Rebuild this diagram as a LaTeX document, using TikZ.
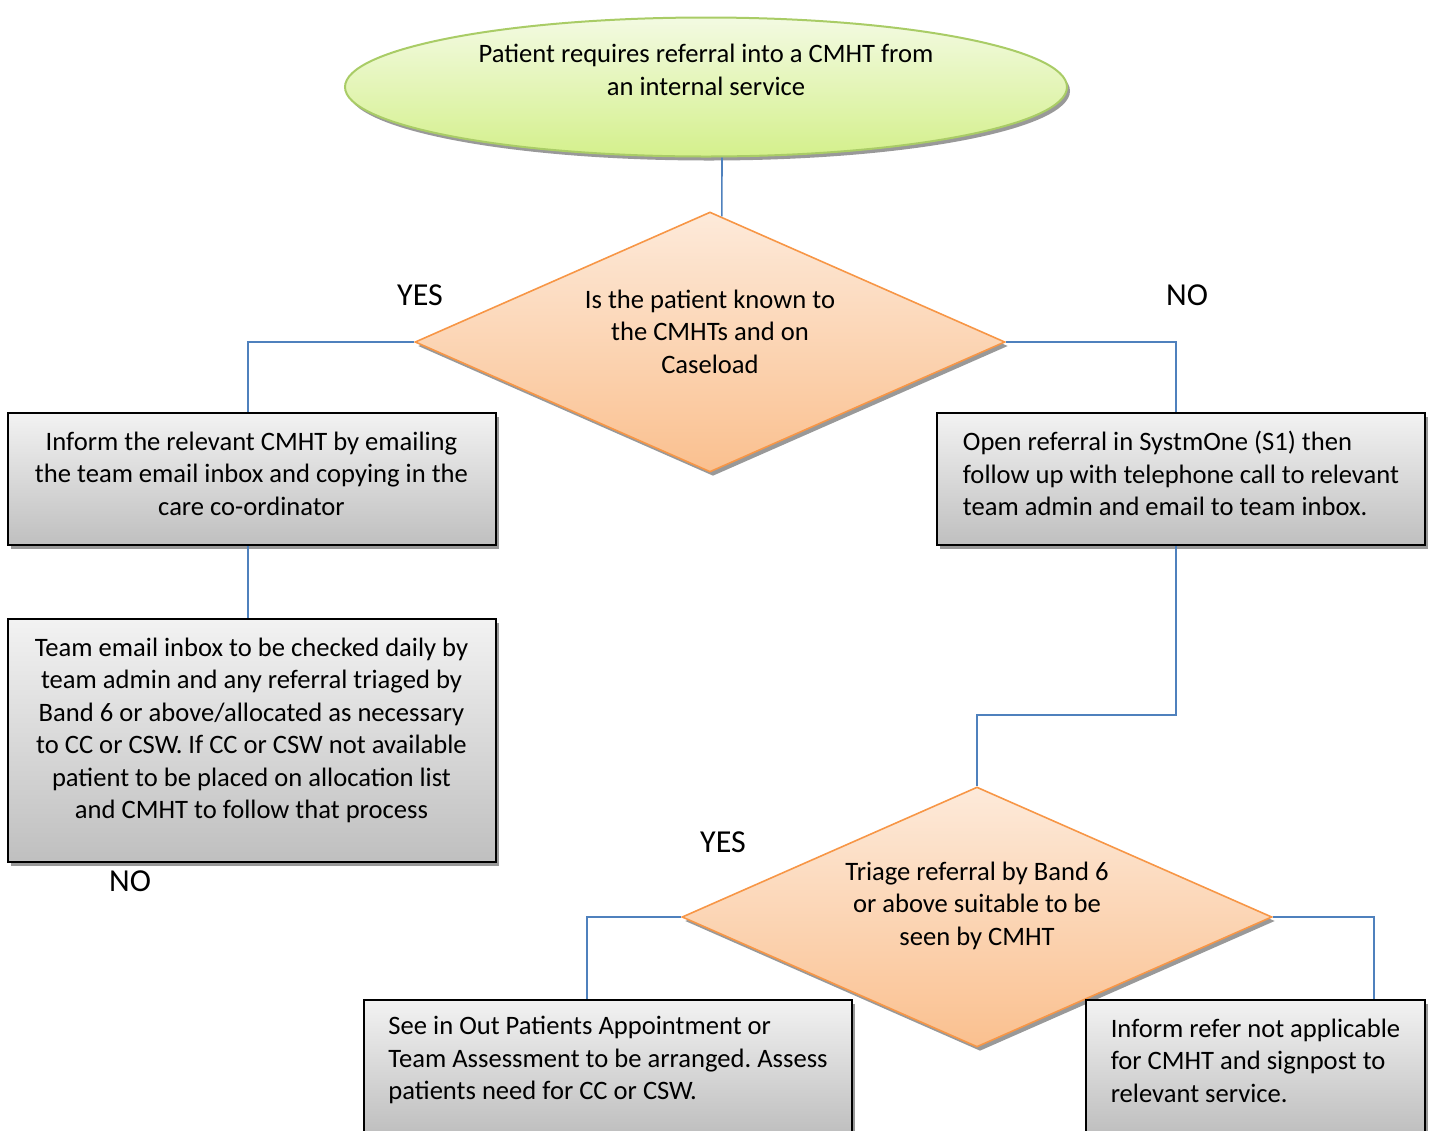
\documentclass[tikz,border=0pt]{standalone}
\usepackage{fontspec}
\setmainfont{Carlito}
\usepackage{xcolor}
\usetikzlibrary{shapes.geometric, positioning, shadows, calc}
\frenchspacing

\definecolor{linkblue}{HTML}{4F81BD}
\definecolor{termline}{HTML}{A9CC66}
\definecolor{termtop}{HTML}{F3FAE2}
\definecolor{termbot}{HTML}{D4F08C}
\definecolor{decline}{HTML}{F79646}
\definecolor{dectop}{HTML}{FDEADA}
\definecolor{decbot}{HTML}{FAC08F}

\begin{document}
\begin{tikzpicture}[
  x=0.5pt, y=-0.5pt,
  font=\fontsize{13.3pt}{16.25pt}\selectfont,
  shade/.style={drop shadow={shadow xshift=1.5pt, shadow yshift=-2pt,
               fill=black!40, opacity=1}},
  term/.style={ellipse, draw=termline, line width=1pt, shade,
               top color=termtop, bottom color=termbot,
               minimum width=361pt, minimum height=69.5pt,
               inner sep=0pt, align=center},
  decide/.style={diamond, aspect=2.27, draw=decline, line width=0.8pt, shade,
               top color=dectop, bottom color=decbot,
               minimum width=295pt, minimum height=130pt,
               inner sep=0pt, align=center},
  proc/.style={draw, line width=1pt, shade,
               top color=black!5, bottom color=black!25,
               minimum width=244pt, minimum height=66pt},
  link/.style={draw=linkblue, line width=0.8pt},
  ans/.style={inner sep=0pt, font=\fontsize{16pt}{19pt}\selectfont},
  node distance=36pt
]
\clip (0,0) rectangle (1432,1131);

\node[term]   (start) at (706,87)
    {Patient requires referral into a CMHT from\\an internal service\\[1pt]\mbox{}};
\node[decide] (known) at (710,342)
    {Is the patient known to\\the CMHTs and on\\Caseload\\[-6pt]\mbox{}};

\node[proc, align=center] (inform) at (251.5,479)
    {Inform the relevant CMHT by emailing\\the team email inbox and copying in the\\care co-ordinator\\[-11pt]\mbox{}};
\node[proc, align=center, minimum height=121.5pt, below=36pt of inform] (inbox)
    {Team email inbox to be checked daily by\\team admin and any referral triaged by\\Band 6 or above/allocated as necessary\\to CC or CSW. If CC or CSW not available\\patient to be placed on allocation list\\and CMHT to follow that process\\[-4pt]\mbox{}};

\node[proc, align=left] (open) at (1181,479)
    {Open referral in SystmOne (S1) then\\follow up with telephone call to relevant\\team admin and email to team inbox.\\[-11pt]\mbox{}};

\node[decide] (triage) at (977,917)
    {Triage referral by Band 6\\or above suitable to be\\seen by CMHT\\[-3pt]\mbox{}};

\node[proc, align=left] (seen) at (608,1066)
    {See in Out Patients Appointment or\\Team Assessment to be arranged. Assess\\patients need for CC or CSW.\\[-8.5pt]\mbox{}};
\node[proc, align=left, minimum width=169.5pt] (refer) at (1255.5,1066)
    {Inform refer not applicable\\for CMHT and signpost to\\relevant service.\\[-11pt]\mbox{}};

% answers
\node[ans] (yes1) at (420,295) {YES};
\node[ans] (no1)  at (1187,295) {NO};
\node[ans] (no2)  at (130,881) {NO};
\node[ans] (yes2) at (723,842) {YES};

% connectors
\draw[link] ([xshift=8pt]start.south) -- ($(known.north)!0.04!(known.east)$);
\draw[link] (known.west) -| ([xshift=-1.75pt]inform.north);
\draw[link] ([xshift=-1.75pt]inform.south) -- ([xshift=-1.75pt]inbox.north);
\draw[link] (known.east) -| ([xshift=-2.5pt]open.north);
\draw[link] ([xshift=-2.5pt]open.south) -- ++(0,169) -| (triage.north);
\draw[link] (triage.west) -| ([xshift=-10.5pt]seen.north);
\draw[link] (triage.east) -| ([xshift=59.25pt]refer.north);
\end{tikzpicture}
\end{document}
